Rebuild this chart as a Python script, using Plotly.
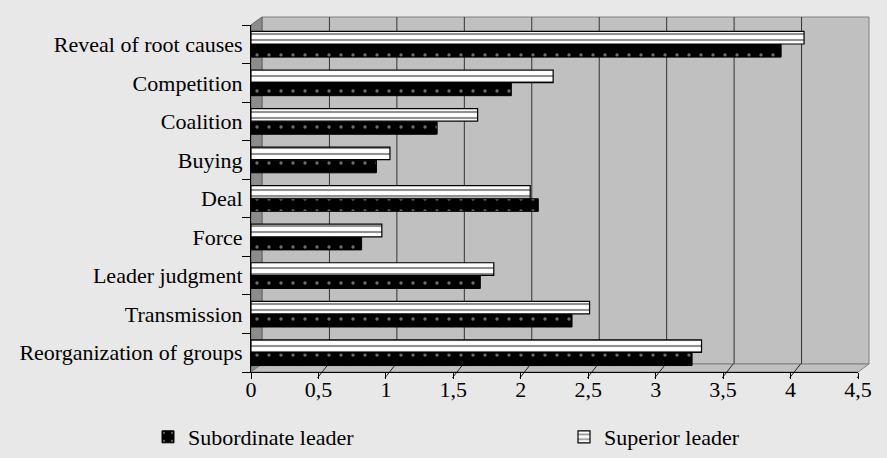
import plotly.graph_objects as go

categories = ["Reveal of root causes", "Competition", "Coalition", "Buying", "Deal",
              "Force", "Leader judgment", "Transmission", "Reorganization of groups"]
subordinate = [3.93, 1.93, 1.38, 0.93, 2.13, 0.82, 1.70, 2.38, 3.27]
superior = [4.10, 2.24, 1.68, 1.03, 2.07, 0.97, 1.80, 2.51, 3.34]
tick_vals = [0, 0.5, 1, 1.5, 2, 2.5, 3, 3.5, 4, 4.5]

W, H = 887, 458
ML, MR, MT, MB = 251, 29, 25, 86
PW, PH = W - ML - MR, H - MT - MB
DX_PX, DY_PX = 11, 8
dx, dy = DX_PX / PW, DY_PX / PH

FONT = "Liberation Serif"
FS = 22

fig = go.Figure()
fig.add_trace(go.Bar(
    y=categories, x=subordinate, orientation="h", name="Subordinate leader", legend="legend",
    showlegend=True,
    marker=dict(color="black", line=dict(color="black", width=1),
                pattern=dict(shape=".", fgcolor="#e0e0e0", bgcolor="black", size=12, solidity=0.06)),
))
fig.add_trace(go.Bar(
    y=categories, x=superior, orientation="h", name="Superior leader", legend="legend2",
    showlegend=True,
    marker=dict(color="white", line=dict(color="black", width=1.2),
                pattern=dict(shape="-", fgcolor="#222222", bgcolor="white", size=6, solidity=0.35)),
))

shapes = []
# back wall
shapes.append(dict(type="rect", xref="paper", yref="paper", x0=dx, x1=1 + dx, y0=dy, y1=1 + dy,
                   fillcolor="#c0c0c0", line=dict(color="#808080", width=1), layer="below"))
# left wall
shapes.append(dict(type="path", xref="paper", yref="paper",
                   path=f"M 0 0 L 0 1 L {dx} {1 + dy} L {dx} {dy} Z",
                   fillcolor="#8c8c8c", line=dict(color="#606060", width=1), layer="below"))
# floor
shapes.append(dict(type="path", xref="paper", yref="paper",
                   path=f"M 0 0 L 1 0 L {1 + dx} {dy} L {dx} {dy} Z",
                   fillcolor="#c0c0c0", line=dict(color="#808080", width=1), layer="below"))
for t in tick_vals[1:]:
    # grid lines on back wall
    shapes.append(dict(type="line", xref="x", yref="paper", xsizemode="pixel", xanchor=t,
                       x0=DX_PX, x1=DX_PX, y0=dy, y1=1 + dy,
                       line=dict(color="#333333", width=1), layer="below"))
    # diagonal floor ticks
    shapes.append(dict(type="line", xref="x", yref="paper", xsizemode="pixel", xanchor=t,
                       x0=-1, x1=DX_PX - 1, y0=-6 / PH, y1=dy,
                       line=dict(color="#222222", width=1), layer="below"))

leg_y = -(437 - (H - MB)) / PH
leg_font = dict(family=FONT, size=FS, color="black")
fig.update_layout(
    width=W, height=H,
    margin=dict(l=ML, r=MR, t=MT, b=MB, autoexpand=False),
    paper_bgcolor="#e8e8e8",
    plot_bgcolor="rgba(0,0,0,0)",
    separators=", ",
    showlegend=True,
    barmode="group", bargap=0.32, bargroupgap=0.04,
    shapes=shapes,
    font=dict(family=FONT, size=FS, color="black"),
    xaxis=dict(range=[0, 4.5], tickvals=tick_vals, showgrid=False, zeroline=False,
               showline=True, linecolor="black", linewidth=1,
               ticks="outside", ticklen=6, tickcolor="black", ticklabelstandoff=-8,
               tickfont=dict(family=FONT, size=FS, color="black")),
    yaxis=dict(categoryorder="array", categoryarray=categories[::-1],
               showgrid=False, zeroline=False,
               showline=True, linecolor="black", linewidth=1,
               ticks="outside", ticklen=8, tickcolor="black", tickson="boundaries",
               ticklabelstandoff=3,
               tickfont=dict(family=FONT, size=FS, color="black")),
    legend=dict(orientation="h", x=(148 - ML) / PW, xanchor="left", y=leg_y, yanchor="middle",
                bgcolor="rgba(0,0,0,0)", font=leg_font),
    legend2=dict(orientation="h", x=(564 - ML) / PW, xanchor="left", y=leg_y, yanchor="middle",
                 bgcolor="rgba(0,0,0,0)", font=leg_font),
)

fig.write_html("out.html")
